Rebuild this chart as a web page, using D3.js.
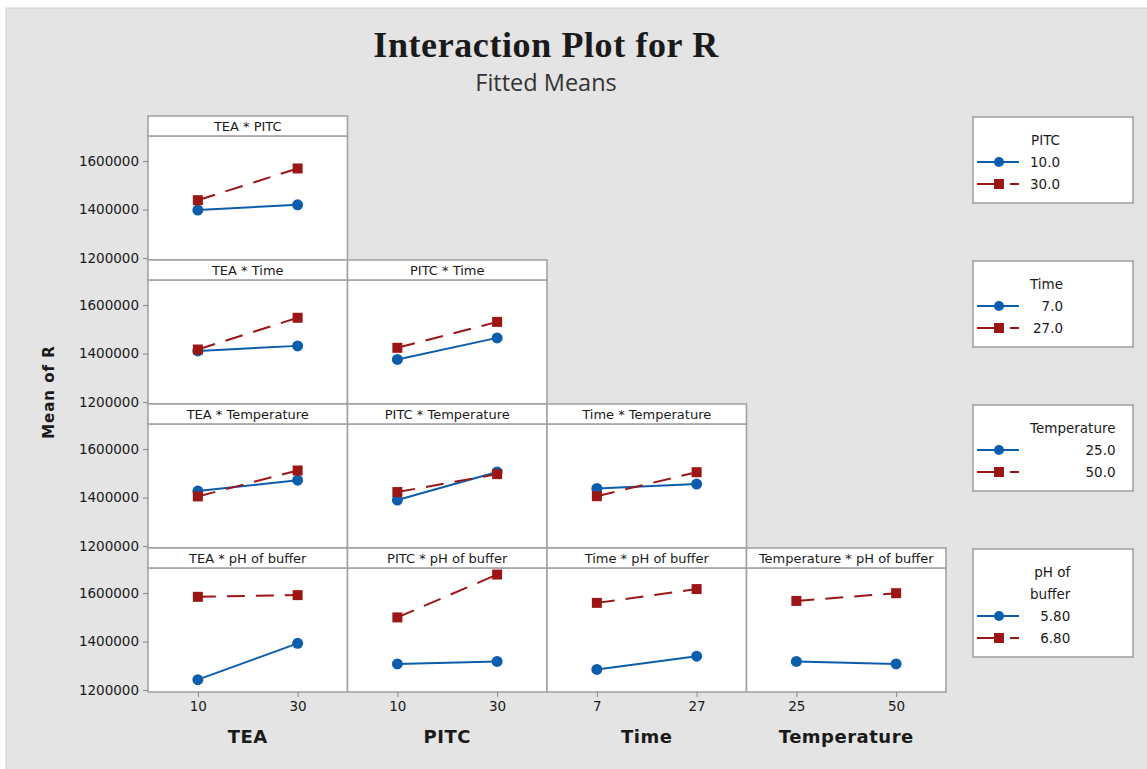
<!doctype html>
<html>
  <head>
    <meta charset="utf-8"/>
    <title>Interaction Plot for R</title>
    <style>
      body, html {
        margin: 0;
        padding: 0;
        background: white;
      }
      svg text {
        font-family: "DejaVu Sans", sans-serif;
        fill: #1a1a1a;
      }
    </style>
    <script src="https://d3js.org/d3.v7.min.js"></script>
  </head>
  <body>
    <script>
      // factors on the x axis (columns) and their levels
      var xFactors = ["TEA", "PITC", "Time", "Temperature"];
      var xLevels = [["10", "30"], ["10", "30"], ["7", "27"], ["25", "50"]];

      // trace factors (rows) and legend levels
      var traceFactors = ["PITC", "Time", "Temperature", "pH of buffer"];
      var legendTitles = [["PITC"], ["Time"], ["Temperature"], ["pH of", "buffer"]];
      var traceLevels = [["10.0", "30.0"], ["7.0", "27.0"], ["25.0", "50.0"], ["5.80", "6.80"]];

      // fitted means [row][col][x level], low trace level (blue)
      var blueMeans = [
        [[1398000, 1420000]],
        [[1411000, 1432000], [1376000, 1465000]],
        [[1427000, 1472000], [1390000, 1506000], [1438000, 1456000]],
        [[1243000, 1393000], [1308000, 1318000], [1285000, 1340000], [1318000, 1308000]]
      ];
      // high trace level (red)
      var redMeans = [
        [[1439000, 1570000]],
        [[1417000, 1548000], [1424000, 1531000]],
        [[1405000, 1512000], [1423000, 1497000], [1406000, 1505000]],
        [[1585000, 1592000], [1500000, 1677000], [1560000, 1617000], [1568000, 1600000]]
      ];

      var yTicks = [1200000, 1400000, 1600000];
      var yDomain = [1192000, 1704000];

      var W = 1147, H = 769;
      var left = 148, top0 = 116, colW = 199.5, rowH = 144, stripH = 20;
      var blue = "#0c5dab", red = "#9c1616", frame = "#a3a3a3";

      var svg = d3.select("body").append("svg")
        .attr("width", W)
        .attr("height", H);

      svg.append("rect")
        .attr("x", 6).attr("y", 8)
        .attr("width", W).attr("height", H)
        .attr("fill", "#e4e4e4")
        .attr("stroke", "#d2d2d2");

      // titles
      svg.append("text")
        .attr("x", 546).attr("y", 57)
        .attr("text-anchor", "middle")
        .style("font-family", "'Liberation Serif', serif")
        .style("font-weight", "bold")
        .style("font-size", "36px")
        .style("letter-spacing", "0.6px")
        .text("Interaction Plot for R");

      svg.append("text")
        .attr("x", 546).attr("y", 91)
        .attr("text-anchor", "middle")
        .style("font-family", "'Open Sans', sans-serif")
        .style("font-size", "23.5px")
        .style("fill", "#333")
        .text("Fitted Means");

      svg.append("text")
        .attr("transform", "translate(54,392) rotate(-90)")
        .attr("text-anchor", "middle")
        .style("font-weight", "bold")
        .style("font-size", "15px")
        .style("letter-spacing", "1px")
        .text("Mean of R");

      var xScales = xFactors.map(function(f, c) {
        return d3.scalePoint()
          .domain(xLevels[c])
          .range([left + c * colW, left + (c + 1) * colW])
          .padding(0.5);
      });

      var line = d3.line();

      traceFactors.forEach(function(tf, r) {
        var y0 = top0 + r * rowH;
        var y = d3.scaleLinear()
          .domain(yDomain)
          .range([y0 + rowH, y0 + stripH]);

        for (var c = 0; c <= r; c++) {
          var x = xScales[c];
          var x0 = left + c * colW;
          var g = svg.append("g");

          g.append("rect")
            .attr("x", x0).attr("y", y0 + stripH)
            .attr("width", colW).attr("height", rowH - stripH)
            .attr("fill", "white").attr("stroke", frame).attr("stroke-width", 1.6);

          g.append("rect")
            .attr("x", x0).attr("y", y0)
            .attr("width", colW).attr("height", stripH)
            .attr("fill", "white").attr("stroke", frame).attr("stroke-width", 1.6);

          g.append("text")
            .attr("x", x0 + colW / 2).attr("y", y0 + stripH / 2)
            .attr("dy", "0.35em")
            .attr("text-anchor", "middle")
            .style("font-size", "13px")
            .text(xFactors[c] + " * " + tf);

          var series = [
            {vals: blueMeans[r][c], color: blue, dash: null, shape: "circle"},
            {vals: redMeans[r][c], color: red, dash: "18,11", shape: "square"}
          ];

          series.forEach(function(s) {
            var pts = s.vals.map(function(v, i) { return [x(xLevels[c][i]), y(v)]; });
            g.append("path")
              .attr("d", line(pts))
              .attr("fill", "none")
              .attr("stroke", s.color)
              .attr("stroke-width", 2)
              .attr("stroke-dasharray", s.dash);
            pts.forEach(function(p) {
              if (s.shape == "circle") {
                g.append("circle")
                  .attr("cx", p[0]).attr("cy", p[1]).attr("r", 5.5)
                  .attr("fill", s.color);
              } else {
                g.append("rect")
                  .attr("x", p[0] - 5).attr("y", p[1] - 5)
                  .attr("width", 10).attr("height", 10)
                  .attr("fill", s.color);
              }
            });
          });
        }

        // left axis for this row
        var ya = svg.append("g")
          .attr("transform", "translate(" + left + ",0)")
          .call(d3.axisLeft(y).tickValues(yTicks).tickFormat(d3.format("d")).tickSize(5).tickSizeOuter(0));
        ya.select(".domain").remove();
        ya.selectAll("line").attr("stroke", "#888");
        ya.selectAll("text")
          .attr("x", -9)
          .style("font-family", "'DejaVu Sans', sans-serif")
          .style("font-size", "13.5px")
          .style("fill", "#1a1a1a");
      });

      // bottom axes and titles
      var bottom = top0 + 4 * rowH;
      xScales.forEach(function(x, c) {
        var xa = svg.append("g")
          .attr("transform", "translate(0," + bottom + ")")
          .call(d3.axisBottom(x).tickSize(5).tickSizeOuter(0));
        xa.select(".domain").remove();
        xa.selectAll("line").attr("stroke", "#888");
        xa.selectAll("text")
          .attr("y", 9)
          .style("font-family", "'DejaVu Sans', sans-serif")
          .style("font-size", "13.5px")
          .style("fill", "#1a1a1a");

        svg.append("text")
          .attr("x", left + c * colW + colW / 2)
          .attr("y", 743)
          .attr("text-anchor", "middle")
          .style("font-weight", "bold")
          .style("font-size", "18px")
          .style("letter-spacing", "0.5px")
          .text(xFactors[c]);
      });

      // legends
      var legX = 973, legW = 160, colLeft = 1030, lineH = 22;
      traceFactors.forEach(function(tf, r) {
        var ly = top0 + 1 + r * rowH;
        var nTitle = legendTitles[r].length;
        var lh = 42 + (nTitle + 1) * lineH;
        var lg = svg.append("g");

        lg.append("rect")
          .attr("x", legX).attr("y", ly)
          .attr("width", legW).attr("height", lh)
          .attr("fill", "white").attr("stroke", frame).attr("stroke-width", 1.6);

        var texts = [];
        legendTitles[r].forEach(function(t, i) {
          texts.push(lg.append("text")
            .attr("y", ly + 23 + i * lineH)
            .attr("dy", "0.35em")
            .style("font-size", "13.5px")
            .text(t));
        });

        traceLevels[r].forEach(function(lv, i) {
          var ry = ly + 23 + (nTitle + i) * lineH;
          var col = i == 0 ? blue : red;
          lg.append("line")
            .attr("x1", 977).attr("x2", 1019)
            .attr("y1", ry).attr("y2", ry)
            .attr("stroke", col).attr("stroke-width", 2)
            .attr("stroke-dasharray", i == 0 ? null : "27,6,12");
          if (i == 0) {
            lg.append("circle").attr("cx", 999).attr("cy", ry).attr("r", 5).attr("fill", col);
          } else {
            lg.append("rect").attr("x", 994).attr("y", ry - 5).attr("width", 10).attr("height", 10).attr("fill", col);
          }
          texts.push(lg.append("text")
            .attr("y", ry)
            .attr("dy", "0.35em")
            .style("font-size", "13.5px")
            .text(lv));
        });

        var maxW = d3.max(texts, function(t) { return t.node().getComputedTextLength(); });
        texts.forEach(function(t) {
          t.attr("x", colLeft + maxW).attr("text-anchor", "end");
        });
      });
    </script>
  </body>
</html>
